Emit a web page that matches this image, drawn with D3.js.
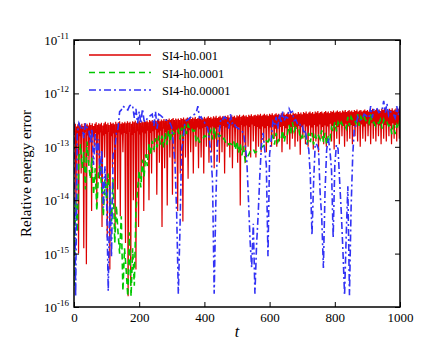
<!DOCTYPE html>
<html>
<head>
<meta charset="utf-8">
<script src="https://cdn.jsdelivr.net/npm/d3@7"></script>
<style>
  body { margin: 0; background: #fff; }
  text { font-family: "Liberation Serif", "Times New Roman", serif; fill: #000; }
</style>
</head>
<body>
<div id="chart"></div>
<script>
// all values are log10 of the relative energy error

// red (h = 0.001): peaks every 4 time units (t = 0 ... 1000),
// dips in between (t = 2, 6, ...), alternating a shallow dip and a spike
const redStep = 4;
const redPeakExp = [
  -12.6,-12.57,-12.62,-12.58,-12.55,-12.6,-12.57,-12.61,-12.56,-12.59,
  -12.57,-12.6,-12.55,-12.59,-12.56,-12.61,-12.57,-12.54,-12.59,-12.56,
  -12.58,-12.55,-12.6,-12.56,-12.53,-12.58,-12.55,-12.59,-12.54,-12.57,
  -12.55,-12.58,-12.53,-12.57,-12.54,-12.52,-12.57,-12.54,-12.56,-12.53,
  -12.56,-12.52,-12.55,-12.53,-12.57,-12.52,-12.54,-12.51,-12.55,-12.53,
  -12.51,-12.55,-12.52,-12.54,-12.5,-12.53,-12.51,-12.54,-12.5,-12.52,
  -12.5,-12.53,-12.49,-12.52,-12.5,-12.48,-12.52,-12.49,-12.51,-12.48,
  -12.51,-12.48,-12.5,-12.47,-12.5,-12.48,-12.46,-12.5,-12.47,-12.49,
  -12.47,-12.5,-12.46,-12.48,-12.45,-12.49,-12.47,-12.45,-12.48,-12.46,
  -12.48,-12.45,-12.47,-12.44,-12.48,-12.46,-12.44,-12.47,-12.45,-12.47,
  -12.44,-12.47,-12.45,-12.43,-12.46,-12.44,-12.47,-12.43,-12.45,-12.42,
  -12.46,-12.44,-12.42,-12.45,-12.43,-12.46,-12.42,-12.44,-12.41,-12.45,
  -12.43,-12.41,-12.44,-12.42,-12.45,-12.41,-12.43,-12.4,-12.44,-12.42,
  -12.4,-12.43,-12.41,-12.44,-12.4,-12.42,-12.39,-12.43,-12.41,-12.4,
  -12.42,-12.39,-12.41,-12.38,-12.42,-12.4,-12.38,-12.41,-12.39,-12.42,
  -12.38,-12.4,-12.37,-12.41,-12.39,-12.37,-12.4,-12.38,-12.41,-12.37,
  -12.39,-12.36,-12.4,-12.38,-12.36,-12.39,-12.37,-12.4,-12.36,-12.38,
  -12.37,-12.39,-12.35,-12.38,-12.36,-12.39,-12.35,-12.37,-12.34,-12.38,
  -12.36,-12.34,-12.37,-12.35,-12.38,-12.34,-12.36,-12.33,-12.37,-12.35,
  -12.34,-12.37,-12.35,-12.33,-12.36,-12.34,-12.37,-12.33,-12.35,-12.32,
  -12.36,-12.34,-12.32,-12.35,-12.33,-12.36,-12.32,-12.34,-12.31,-12.35,
  -12.33,-12.31,-12.34,-12.32,-12.35,-12.31,-12.33,-12.3,-12.34,-12.32,
  -12.31,-12.34,-12.32,-12.3,-12.33,-12.31,-12.34,-12.3,-12.32,-12.29,
  -12.33,-12.31,-12.29,-12.32,-12.3,-12.33,-12.29,-12.31,-12.28,-12.32,
  -12.3,-12.32,-12.29,-12.31,-12.28,-12.32,-12.3,-12.28,-12.31,-12.29,
  -12.3
];
const redShallowExp = [
  -12.78,-12.74,-12.8,-12.76,-12.72,-12.79,-12.75,-12.81,-12.74,-12.77,
  -12.73,-12.79,-12.76,-12.72,-12.8,-12.75,-12.78,-12.73,-12.77,-12.74,
  -12.76,-12.72,-12.78,-12.74,-12.71,-12.77,-12.73,-12.75,-12.7,-12.74,
  -12.71,-12.68,-12.73,-12.7,-12.66,-12.72,-12.69,-12.67,-12.71,-12.68,
  -12.66,-12.7,-12.67,-12.65,-12.69,-12.66,-12.68,-12.64,-12.67,-12.65,
  -12.63,-12.67,-12.64,-12.62,-12.66,-12.63,-12.65,-12.61,-12.64,-12.62,
  -12.6,-12.64,-12.61,-12.63,-12.59,-12.62,-12.6,-12.63,-12.58,-12.61,
  -12.63,-12.66,-12.62,-12.65,-12.61,-12.64,-12.62,-12.66,-12.6,-12.63,
  -12.61,-12.65,-12.6,-12.63,-12.59,-12.64,-12.61,-12.63,-12.58,-12.62,
  -12.6,-12.64,-12.59,-12.62,-12.58,-12.63,-12.6,-12.62,-12.57,-12.61,
  -12.59,-12.63,-12.58,-12.61,-12.57,-12.62,-12.59,-12.61,-12.56,-12.6,
  -12.58,-12.62,-12.57,-12.6,-12.56,-12.61,-12.58,-12.6,-12.56,-12.59,
  -12.57,-12.61,-12.56,-12.59,-12.58
];
const redSpikeExp = [
  -14.2,-15.0,-13.5,-14.9,-15.2,-13.3,-14.2,-13.0,-14.1,-13.6,
  -14.5,-13.2,-14.7,-15.3,-13.4,-14.6,-13.8,-14.3,-13.1,-14.8,
  -15.8,-15.6,-14.0,-15.3,-14.5,-13.6,-14.2,-13.2,-14.0,-13.5,
  -13.1,-13.9,-13.3,-14.5,-13.4,-14.1,-13.2,-13.9,-13.3,-14.2,
  -13.5,-14.4,-13.2,-13.6,-13.1,-13.5,-13.0,-13.4,-13.2,-13.5,
  -13.0,-13.3,-13.1,-13.4,-13.0,-13.3,-13.1,-13.5,-13.0,-13.2,
  -13.4,-13.0,-13.3,-14.1,-13.1,-13.3,-13.0,-13.2,-12.9,-13.2,
  -13.0,-13.1,-12.9,-13.1,-12.9,-13.0,-12.85,-13.0,-12.9,-13.1,
  -12.8,-12.95,-13.05,-12.85,-13.0,-12.9,-13.15,-12.85,-12.95,-13.0,
  -12.8,-13.05,-12.9,-13.1,-12.85,-12.95,-13.0,-12.8,-12.9,-13.05,
  -12.85,-12.95,-12.8,-13.0,-12.9,-12.85,-12.95,-12.8,-12.9,-13.0,
  -12.85,-12.9,-12.8,-12.95,-12.85,-12.9,-12.8,-12.95,-12.85,-12.9,
  -12.8,-12.95,-12.85,-12.9,-12.85
];

// green (h = 0.0001) and blue (h = 0.00001): one value every 5 time units
const lineStep = 5;
const greenExp = [
  -15.6,-14.0,-14.6,-13.2,-12.95,-13.4,-13.1,-13.8,-12.9,-13.3,
  -13.6,-13.2,-13.9,-13.4,-14.2,-13.5,-13.3,-13.8,-14.3,-13.6,
  -14.0,-13.5,-13.9,-14.4,-13.6,-14.8,-14.1,-14.6,-15.0,-14.3,
  -15.7,-14.9,-15.3,-15.8,-14.6,-15.8,-14.9,-15.6,-14.2,-13.8,
  -13.44,-13.76,-13.24,-13.56,-13.14,-13.36,-12.94,-13.16,-12.89,-13.06,
  -12.84,-13.01,-12.79,-12.96,-12.79,-13.01,-12.74,-12.96,-12.69,-12.91,
  -12.69,-12.76,-12.74,-12.76,-12.69,-12.86,-12.64,-12.81,-12.59,-12.76,
  -12.59,-12.66,-12.64,-12.71,-12.69,-12.91,-12.84,-12.91,-12.89,-12.86,
  -12.79,-12.81,-12.74,-12.76,-12.69,-12.86,-12.64,-12.81,-12.74,-12.81,
  -12.79,-12.86,-12.84,-12.91,-12.89,-12.96,-12.94,-12.96,-12.89,-13.06,
  -12.89,-13.11,-12.94,-13.16,-12.99,-13.26,-13.19,-13.16,-13.09,-13.06,
  -13.04,-13.11,-13.09,-13.06,-13.04,-13.01,-12.99,-12.96,-12.89,-12.91,
  -12.84,-12.86,-12.79,-12.96,-12.74,-12.91,-12.84,-12.86,-12.69,-12.91,
  -12.74,-12.76,-12.59,-12.76,-12.54,-12.71,-12.64,-12.71,-12.69,-12.86,
  -12.79,-12.86,-12.79,-12.96,-12.74,-12.91,-12.74,-12.96,-12.79,-12.86,
  -12.79,-12.86,-12.69,-12.91,-12.74,-12.96,-12.79,-12.86,-12.64,-12.71,
  -12.54,-12.71,-12.54,-12.61,-12.54,-12.61,-12.59,-12.66,-12.44,-12.61,
  -12.44,-12.51,-12.49,-12.56,-12.39,-12.61,-12.44,-12.51,-12.44,-12.51,
  -12.49,-12.56,-12.39,-12.56,-12.54,-12.61,-12.54,-12.56,-12.49,-12.66,
  -12.49,-12.56,-12.54,-12.61,-12.59,-12.76,-12.59,-12.76,-12.59,-12.66,
  -12.49
];
const blueExp = [
  -12.54,-15.8,-12.74,-12.56,-12.64,-12.61,-12.84,-12.56,-12.64,-12.66,
  -12.94,-12.66,-13.34,-12.76,-13.14,-12.86,-13.54,-13.06,-14.14,-13.36,
  -13.94,-15.7,-13.74,-15.06,-13.14,-13.06,-12.74,-12.66,-12.34,-12.31,
  -12.24,-12.26,-12.29,-12.31,-12.24,-12.21,-12.24,-12.46,-12.29,-12.56,
  -12.34,-12.56,-12.29,-12.51,-12.54,-12.46,-12.44,-12.41,-12.39,-12.61,
  -12.34,-12.66,-12.39,-12.41,-12.44,-12.46,-12.49,-12.51,-12.54,-12.56,
  -12.64,-12.96,-13.34,-14.26,-15.75,-14.56,-13.04,-12.86,-12.54,-12.51,
  -12.49,-12.46,-12.44,-12.41,-12.39,-12.36,-12.24,-12.46,-12.44,-12.51,
  -12.54,-12.61,-12.64,-12.86,-13.14,-13.66,-15.75,-14.06,-12.94,-12.76,
  -12.49,-12.51,-12.44,-12.46,-12.49,-12.66,-12.39,-12.56,-12.54,-12.61,
  -12.64,-12.66,-12.69,-12.71,-12.74,-12.96,-13.24,-13.96,-14.74,-15.26,
  -14.44,-15.75,-14.84,-14.26,-13.54,-12.96,-12.74,-13.06,-13.34,-15.05,
  -13.14,-12.86,-12.54,-12.61,-12.44,-12.66,-12.39,-12.56,-12.34,-12.51,
  -12.44,-12.46,-12.29,-12.36,-12.34,-12.51,-12.49,-12.56,-12.54,-12.61,
  -12.59,-12.76,-12.69,-12.96,-13.04,-13.56,-14.65,-13.66,-12.94,-12.96,
  -13.04,-13.86,-14.34,-15.27,-13.84,-13.06,-12.84,-13.06,-13.44,-14.7,
  -13.34,-12.96,-13.04,-13.66,-14.24,-14.96,-15.78,-14.66,-13.74,-15.78,
  -14.14,-13.16,-12.64,-12.61,-12.44,-12.51,-12.49,-12.46,-12.39,-12.41,
  -12.44,-12.46,-12.24,-12.46,-12.29,-12.31,-12.29,-12.36,-12.34,-12.31,
  -12.14,-12.36,-12.19,-12.41,-12.34,-12.36,-12.39,-12.46,-12.24,-12.41,
  -12.24
];

const seriesNames = ['SI4-h0.001', 'SI4-h0.0001', 'SI4-h0.00001'];
const xTicks = [0, 200, 400, 600, 800, 1000];
const yTickExps = [-16, -15, -14, -13, -12, -11];

const width = 436;
const height = 349;
const margin = { top: 40, right: 36, bottom: 42, left: 74 };
const plotW = width - margin.left - margin.right;
const plotH = height - margin.top - margin.bottom;

const colors = ['#dc0000', '#00c800', '#3232f5'];
const dashes = [null, '6,4', '7,3,2,3'];
const widths = [1.2, 1.6, 1.6];

const svg = d3.select('#chart')
  .append('svg')
  .attr('width', width)
  .attr('height', height);

const g = svg.append('g')
  .attr('transform', `translate(${margin.left},${margin.top})`);

const x = d3.scaleLinear().domain([0, 1000]).range([0, plotW]);
const y = d3.scaleLog().domain([1e-16, 1e-11]).range([plotH, 0]);

// build point lists
const redPoints = [];
redPeakExp.forEach((e, i) => {
  redPoints.push({ t: i * redStep, v: Math.pow(10, e) });
  if (i < redPeakExp.length - 1) {
    const k = Math.floor(i / 2);
    const dip = i % 2 === 0 ? redShallowExp[k] : redSpikeExp[k];
    redPoints.push({ t: i * redStep + redStep / 2, v: Math.pow(10, dip) });
  }
});
const greenPoints = greenExp.map((e, i) => ({ t: i * lineStep, v: Math.pow(10, e) }));
const bluePoints = blueExp.map((e, i) => ({ t: i * lineStep, v: Math.pow(10, e) }));
const allSeries = [redPoints, greenPoints, bluePoints];

g.append('clipPath')
  .attr('id', 'clip')
  .append('rect')
  .attr('width', plotW)
  .attr('height', plotH);

const line = d3.line()
  .x((d) => x(d.t))
  .y((d) => y(d.v));

g.append('g')
  .attr('clip-path', 'url(#clip)')
  .selectAll('path')
  .data(allSeries)
  .enter()
  .append('path')
  .attr('d', (d) => line(d))
  .style('fill', 'none')
  .style('stroke', (d, i) => colors[i])
  .style('stroke-width', (d, i) => widths[i])
  .style('stroke-dasharray', (d, i) => dashes[i]);

// ticks on all four sides, pointing in
const tickLen = 5;
const axisStyle = (sel) => {
  sel.select('.domain').remove();
  sel.selectAll('.tick line').attr('stroke', '#000').attr('stroke-width', 1);
};
g.append('g')
  .attr('transform', `translate(0,${plotH})`)
  .call(d3.axisBottom(x).tickValues(xTicks).tickSize(-tickLen).tickPadding(6).tickFormat(d3.format('d')))
  .call(axisStyle)
  .selectAll('text')
  .style('font-size', '13px')
  .style('font-family', '"Liberation Serif", serif');
g.append('g')
  .call(d3.axisTop(x).tickValues(xTicks).tickSize(-tickLen).tickFormat(''))
  .call(axisStyle);
const yTickVals = yTickExps.map((e) => Math.pow(10, e));
g.append('g')
  .call(d3.axisLeft(y).tickValues(yTickVals).tickSize(-tickLen).tickFormat(''))
  .call(axisStyle);
g.append('g')
  .attr('transform', `translate(${plotW},0)`)
  .call(d3.axisRight(y).tickValues(yTickVals).tickSize(-tickLen).tickFormat(''))
  .call(axisStyle);

// y tick labels as 10^n
const yLabels = g.append('g')
  .selectAll('text')
  .data(yTickExps)
  .enter()
  .append('text')
  .attr('x', -5)
  .attr('y', (d) => y(Math.pow(10, d)) + 5)
  .attr('text-anchor', 'end')
  .style('font-size', '13px');
yLabels.append('tspan').text('10');
yLabels.append('tspan')
  .attr('dy', -6)
  .style('font-size', '9px')
  .text((d) => String(d));

// frame
g.append('rect')
  .attr('width', plotW)
  .attr('height', plotH)
  .attr('fill', 'none')
  .attr('stroke', '#000')
  .attr('stroke-width', 1.5);

// axis titles
svg.append('text')
  .attr('x', margin.left + plotW / 2)
  .attr('y', 337)
  .attr('text-anchor', 'middle')
  .style('font-size', '16px')
  .style('font-style', 'italic')
  .text('t');

svg.append('text')
  .attr('transform', `translate(31,${margin.top + plotH / 2}) rotate(-90)`)
  .attr('text-anchor', 'middle')
  .style('font-size', '15px')
  .text('Relative energy error');

// legend
const legend = svg.append('g')
  .selectAll('g')
  .data(seriesNames)
  .enter()
  .append('g')
  .attr('transform', (d, i) => `translate(89,${55 + i * 17.5})`);
legend.append('line')
  .attr('x1', 0)
  .attr('x2', 62)
  .style('stroke', (d, i) => colors[i])
  .style('stroke-width', 1.3)
  .style('stroke-dasharray', (d, i) => dashes[i]);
legend.append('text')
  .attr('x', 73)
  .attr('y', 5)
  .style('font-size', '12.5px')
  .text((d) => d);
</script>
</body>
</html>
